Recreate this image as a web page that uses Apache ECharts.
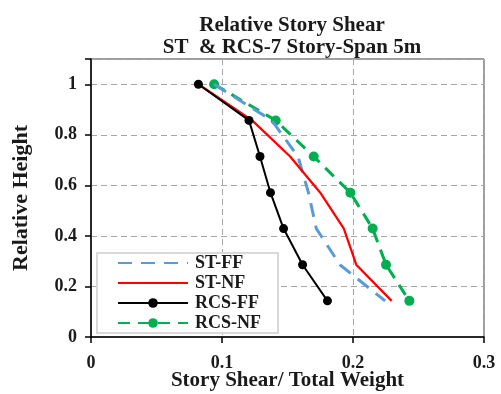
<!DOCTYPE html>
<html>
<head>
<meta charset="utf-8">
<script src="https://cdn.jsdelivr.net/npm/echarts@6/dist/echarts.min.js"></script>
<style>
  html, body { margin: 0; padding: 0; background: #fff; }
  #chart { width: 501px; height: 394px; }
</style>
</head>
<body>
<div id="chart"></div>
<script>
// Relative story heights (storey levels of the 7-storey frame)
const heights = [1, 0.857, 0.714, 0.571, 0.429, 0.286, 0.143];

// Story shear / total weight for each model
const stFF  = [0.094, 0.138, 0.158, 0.166, 0.172, 0.190, 0.2245];
const stNF  = [0.082, 0.123, 0.152, 0.175, 0.193, 0.2025, 0.2295];
const rcsFF = [0.082, 0.1206, 0.129, 0.137, 0.147, 0.1615, 0.1805];
const rcsNF = [0.094, 0.141, 0.170, 0.198, 0.215, 0.2252, 0.243];

const seriesNames = ['ST-FF', 'ST-NF', 'RCS-FF', 'RCS-NF'];
const xTicks = [0, 0.1, 0.2, 0.3];
const yTicks = [0, 0.2, 0.4, 0.6, 0.8, 1];

const pairs = (xs) => xs.map((x, i) => [x, heights[i]]);
const font = '"Liberation Serif", "Times New Roman", serif';

// Plain lines show no marker in the legend
const legendData = [
  { name: seriesNames[0], itemStyle: { opacity: 0 } },
  { name: seriesNames[1], itemStyle: { opacity: 0 } },
  { name: seriesNames[2] },
  { name: seriesNames[3] }
];

const chart = echarts.init(document.getElementById('chart'));
chart.setOption({
  animation: false,
  backgroundColor: '#fff',
  title: {
    text: 'Relative Story Shear\nST  & RCS-7 Story-Span 5m',
    left: 287, top: 10, textAlign: 'center',
    textStyle: { fontFamily: font, fontWeight: 'bold', fontSize: 21, lineHeight: 22, color: '#1a1a1a' }
  },
  grid: {
    left: 91, right: 17, top: 59, bottom: 57,
    outerBoundsMode: 'none',
    show: true, borderColor: '#3a3a3a', borderWidth: 1
  },
  legend: {
    orient: 'vertical', left: 97, top: 253,
    data: legendData,
    itemWidth: 70, itemHeight: 12, itemGap: 2,
    padding: [1, 17, 1, 20],
    borderColor: '#d9d9d9', borderWidth: 2, backgroundColor: '#fff',
    textStyle: { fontFamily: font, fontWeight: 'bold', fontSize: 18, lineHeight: 18, color: '#1a1a1a', padding: [0, 0, 0, 2] }
  },
  xAxis: {
    type: 'value', min: xTicks[0], max: xTicks[xTicks.length - 1], interval: 0.1,
    name: 'Story Shear/ Total Weight', nameLocation: 'middle', nameGap: 33, nameMoveOverlap: false,
    nameTextStyle: { fontFamily: font, fontWeight: 'bold', fontSize: 21, color: '#1a1a1a' },
    axisLine: { show: true, lineStyle: { color: '#000', width: 1.5 } },
    axisTick: { show: true, inside: false, length: 6, lineStyle: { color: '#000', width: 1.5 } },
    axisLabel: { margin: 17, fontFamily: font, fontWeight: 'bold', fontSize: 18, color: '#1a1a1a' },
    splitLine: { show: true, lineStyle: { color: '#a6a6a6', type: [6, 4], width: 1 } }
  },
  yAxis: {
    type: 'value', min: 0, max: 1.1, interval: 0.2,
    name: 'Relative Height', nameLocation: 'middle', nameGap: 59, nameRotate: 90, nameMoveOverlap: false,
    nameTextStyle: { fontFamily: font, fontWeight: 'bold', fontSize: 22, color: '#1a1a1a' },
    axisLine: { show: true, lineStyle: { color: '#000', width: 1.5 } },
    axisTick: { show: true, inside: false, length: 6, lineStyle: { color: '#000', width: 1.5 } },
    axisLabel: {
      margin: 14, fontFamily: font, fontWeight: 'bold', fontSize: 18, color: '#1a1a1a',
      formatter: (v) => (yTicks.some(t => Math.abs(t - v) < 1e-6) ? String(+v.toFixed(1)) : '')
    },
    splitLine: { show: true, lineStyle: { color: '#a6a6a6', type: [6, 4], width: 1 } }
  },
  series: [
    {
      name: 'ST-FF', type: 'line', data: pairs(stFF), showSymbol: false, symbol: 'none',
      lineStyle: { color: '#5b9bd5', width: 3, type: [14, 9] }, itemStyle: { color: '#5b9bd5' }, z: 2
    },
    {
      name: 'ST-NF', type: 'line', data: pairs(stNF), showSymbol: false, symbol: 'none',
      lineStyle: { color: '#ff0000', width: 2.25 }, itemStyle: { color: '#ff0000' }, z: 3
    },
    {
      name: 'RCS-FF', type: 'line', data: pairs(rcsFF), symbol: 'circle', symbolSize: 9,
      lineStyle: { color: '#000', width: 2 }, itemStyle: { color: '#000' }, z: 4
    },
    {
      name: 'RCS-NF', type: 'line', data: pairs(rcsNF), symbol: 'circle', symbolSize: 10,
      lineStyle: { color: '#00b050', width: 3, type: [12, 8] }, itemStyle: { color: '#00b050' }, z: 1
    }
  ]
});
</script>
</body>
</html>
